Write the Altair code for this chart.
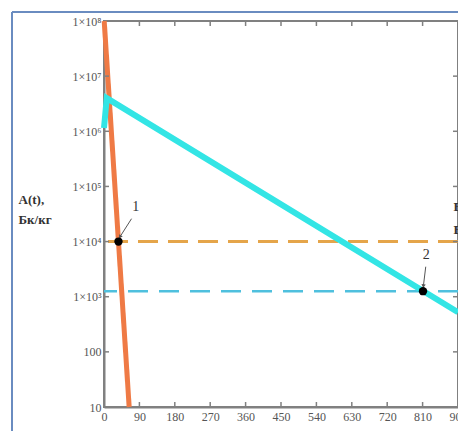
import altair as alt
import pandas as pd

# ---- data ----
t_orange = [0.5, 64]
a_orange = [1.0e8, 10]
t_cyan = [0, 7, 900]
a_cyan = [1.15e6, 4.0e6, 525]
level_orange = [1.0e4]
level_cyan = [1.26e3]
pts_t = [36.8, 811]
pts_a = [1.0e4, 1.26e3]
lab_text = ["1", "2"]
lab_t = [81, 819]
lab_a = [4.2e4, 5.7e3]
arr_t0 = [70, 818]
arr_a0 = [2.6e4, 3.5e3]
arr_t1 = [40.6, 812]
arr_a1 = [1.22e4, 1.56e3]
arr_angle = [32, 7]
x_ticks = [0, 90, 180, 270, 360, 450, 540, 630, 720, 810, 900]
y_ticks = [10, 100, 1e3, 1e4, 1e5, 1e6, 1e7, 1e8]

W, H = 354, 386
GREY = "#808080"
SERIF = "Liberation Serif"

xs = alt.Scale(domain=[0, 900], nice=False, zero=False)
ys = alt.Scale(type="log", domain=[10, 1e8], nice=False)

xaxis = alt.Axis(values=x_ticks, grid=False, ticks=False, domainColor=GREY, domainWidth=2,
                 labelFont=SERIF, labelFontSize=12, labelColor="#555", labelPadding=4,
                 labelFlush=False, labelOverlap=False,
                 title="t, год", titleFont=SERIF, titleFontSize=13, titleFontWeight="bold",
                 titleColor="#333", titleX=158, titleY=24, titleAlign="center", titleBaseline="top")
yaxis = alt.Axis(values=y_ticks, grid=False, ticks=False, domainColor=GREY, domainWidth=2,
                 labelFont=SERIF, labelFontSize=12, labelColor="#555", labelPadding=3,
                 labelFlush=False, labelOverlap=False,
                 labelExpr="datum.value < 1000 ? format(datum.value, 'd') : '1×10' + ['³','⁴','⁵','⁶','⁷','⁸'][round(log(datum.value)/LN10) - 3]",
                 title=["A(t),", "Бк/кг"], titleAngle=0, titleAlign="left", titleBaseline="top",
                 titleX=-86, titleY=172, titleFont=SERIF, titleFontSize=13, titleFontWeight="bold",
                 titleColor="#333", titleLineHeight=20)

X = alt.X("t:Q", scale=xs, axis=xaxis)
Y = alt.Y("A:Q", scale=ys, axis=yaxis)

df_or = pd.DataFrame({"t": t_orange, "A": a_orange})
df_cy = pd.DataFrame({"t": t_cyan, "A": a_cyan})
df_lo = pd.DataFrame({"A": level_orange})
df_lc = pd.DataFrame({"A": level_cyan})
df_pts = pd.DataFrame({"t": pts_t, "A": pts_a})
df_lab = pd.DataFrame({"t": lab_t, "A": lab_a, "lab": lab_text})
df_arr = pd.DataFrame({"t": arr_t0, "A": arr_a0, "t2": arr_t1, "A2": arr_a1})
df_head = pd.DataFrame({"t": arr_t1, "A": arr_a1, "ang": arr_angle})
df_xt = pd.DataFrame({"t": x_ticks[1:]})
df_yt = pd.DataFrame({"A": y_ticks[1:-1]})
df_one = pd.DataFrame({"d": [0]})

lvl_o = alt.Chart(df_lo).mark_rule(color="#E5A54A", strokeWidth=3, strokeDash=[20, 10]).encode(y=Y)
lvl_c = alt.Chart(df_lc).mark_rule(color="#4FC0DE", strokeWidth=2.5, strokeDash=[20, 11]).encode(y=Y)
line_o = alt.Chart(df_or).mark_line(color="#EF7A45", strokeWidth=5).encode(x=X, y=Y)
line_c = alt.Chart(df_cy).mark_line(color="#33E5E5", strokeWidth=6).encode(x=X, y=Y)

tick_b = alt.Chart(df_xt).mark_rule(color=GREY, strokeWidth=1.5).encode(x=X, y=alt.value(H), y2=alt.value(H - 5))
tick_t = alt.Chart(df_xt).mark_rule(color=GREY, strokeWidth=1.5).encode(x=X, y=alt.value(0), y2=alt.value(5))
tick_l = alt.Chart(df_yt).mark_rule(color=GREY, strokeWidth=1.5).encode(y=Y, x=alt.value(0), x2=alt.value(5))
tick_r = alt.Chart(df_yt).mark_rule(color=GREY, strokeWidth=1.5).encode(y=Y, x=alt.value(W), x2=alt.value(W - 5))

arrows = alt.Chart(df_arr).mark_rule(color="#555", strokeWidth=1).encode(
    x=X, y=Y, x2="t2:Q", y2="A2:Q")
heads = alt.Chart(df_head).mark_point(shape="triangle-down", filled=True, color="#555",
                                      size=18, opacity=1).encode(x=X, y=Y, angle=alt.Angle("ang:Q", scale=None))
dots = alt.Chart(df_pts).mark_circle(color="black", size=70, opacity=1).encode(x=X, y=Y)
labels = alt.Chart(df_lab).mark_text(font=SERIF, fontSize=14, color="#333").encode(x=X, y=Y, text="lab:N")

frame_l = alt.Chart(df_one).mark_rule(color="#6A8CC0", strokeWidth=2).encode(
    x=alt.value(-92), y=alt.value(-9), y2=alt.value(H + 40))
frame_t = alt.Chart(df_one).mark_rule(color="#6A8CC0", strokeWidth=2).encode(
    x=alt.value(-92), x2=alt.value(W + 20), y=alt.value(-9))
stem1 = alt.Chart(df_one).mark_text(font=SERIF, fontSize=13, fontWeight="bold", color="#333",
                                    align="right", baseline="middle").encode(
    x=alt.value(W + 4), y=alt.value(186), text=alt.value("Б"))
stem2 = alt.Chart(df_one).mark_text(font=SERIF, fontSize=13, fontWeight="bold", color="#333",
                                    align="right", baseline="middle").encode(
    x=alt.value(W + 4), y=alt.value(209), text=alt.value("Б"))

chart = alt.layer(
    lvl_o, lvl_c, line_o, line_c, tick_b, tick_t, tick_l, tick_r,
    arrows, heads, dots, labels, frame_l, frame_t, stem1, stem2
).properties(
    width=W, height=H, autosize="none",
    padding={"left": 96, "top": 13, "right": 0, "bottom": 24},
    background="white"
).configure_view(stroke=GREY, strokeWidth=2)

chart.save("out.html", embed_options={"renderer": "svg", "actions": False})
